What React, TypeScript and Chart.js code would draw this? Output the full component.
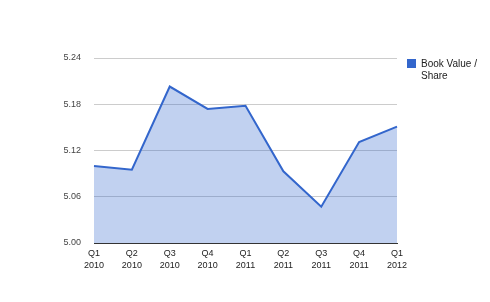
import React, { useEffect, useRef } from "react";
import { Chart, registerables } from "chart.js";

Chart.register(...registerables);

const quarters = ["Q1", "Q2", "Q3", "Q4", "Q1", "Q2", "Q3", "Q4", "Q1"];
const years = ["2010", "2010", "2010", "2010", "2011", "2011", "2011", "2011", "2012"];
const bookValuePerShare = [5.1, 5.095, 5.203, 5.174, 5.178, 5.093, 5.047, 5.131, 5.151];
const yTicks = [5.0, 5.06, 5.12, 5.18, 5.24];
const seriesName = ["Book Value /", "Share"];

const FONT = "'Liberation Sans', Arial, sans-serif";

export default function App() {
  const ref = useRef<HTMLCanvasElement | null>(null);

  useEffect(() => {
    if (!ref.current) return;
    const labels = quarters.map((q, i) => [q, years[i]]);
    const chart = new Chart(ref.current, {
      type: "line",
      data: {
        labels,
        datasets: [
          {
            label: seriesName.join(" "),
            data: bookValuePerShare,
            borderColor: "#3366cc",
            backgroundColor: "rgba(51,102,204,0.3)",
            borderWidth: 2,
            fill: "start",
            pointRadius: 0,
            tension: 0,
          },
        ],
      },
      options: {
        animation: false,
        responsive: false,
        devicePixelRatio: 1,
        layout: { padding: { left: 0, right: 93, top: 58, bottom: 0 } },
        plugins: { legend: { display: false }, tooltip: { enabled: false } },
        scales: {
          x: {
            offset: false,
            grid: { display: false, drawTicks: false },
            border: { display: true, color: "#333333", width: 1 },
            ticks: {
              font: { family: FONT, size: 9, lineHeight: 1.33 },
              color: "#222222",
              padding: 5,
              maxRotation: 0,
              autoSkip: false,
            },
            afterFit: (s: any) => {
              s.height = 59;
            },
          },
          y: {
            min: yTicks[0],
            max: yTicks[yTicks.length - 1],
            afterBuildTicks: (s: any) => {
              s.ticks = yTicks.map((v) => ({ value: v }));
            },
            grid: { color: "#cccccc", drawTicks: false, lineWidth: 1 },
            border: { display: false },
            ticks: {
              font: { family: FONT, size: 9 },
              color: "#444444",
              padding: 13,
              callback: (v: any) => Number(v).toFixed(2),
            },
            afterFit: (s: any) => {
              s.width = 94;
            },
          },
        },
      },
    });
    return () => chart.destroy();
  }, []);

  return (
    <div style={{ position: "fixed", left: 0, top: 0, width: 490, height: 302, background: "#fff" }}>
      <canvas ref={ref} width={490} height={302} style={{ display: "block" }} />
      <div
        style={{
          position: "absolute",
          left: 407,
          top: 59,
          width: 9,
          height: 9,
          background: "#3366cc",
        }}
      />
      <div
        style={{
          position: "absolute",
          left: 421,
          top: 58,
          fontFamily: FONT,
          fontSize: 10,
          lineHeight: "12px",
          color: "#222222",
          whiteSpace: "nowrap",
        }}
      >
        {seriesName[0]}
        <br />
        {seriesName[1]}
      </div>
    </div>
  );
}
